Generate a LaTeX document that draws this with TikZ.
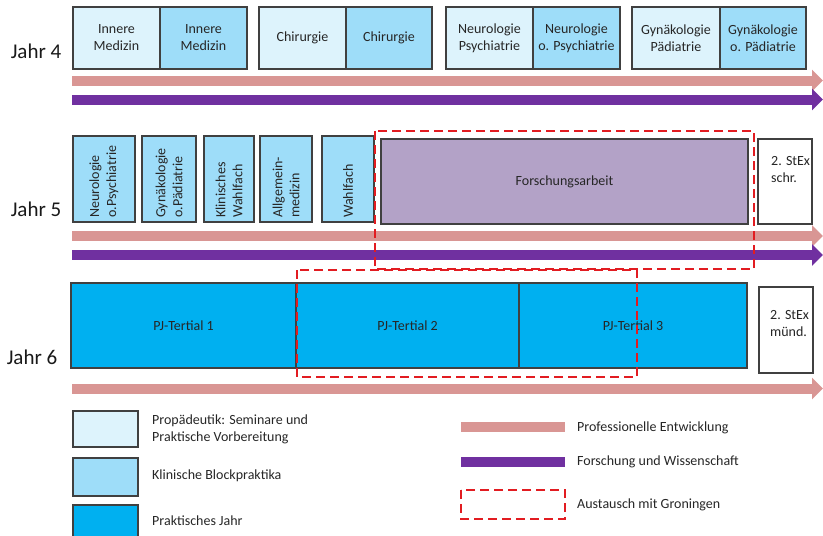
\documentclass[tikz,border=0pt]{standalone}
\usepackage{fontspec}
\setmainfont{Carlito}
\usetikzlibrary{arrows.meta}

\definecolor{lite}{RGB}{221,243,252}
\definecolor{mid}{RGB}{158,221,249}
\definecolor{pjblue}{RGB}{0,176,240}
\definecolor{resblue}{RGB}{179,162,199}
\definecolor{profpink}{RGB}{217,150,148}
\definecolor{forsch}{RGB}{112,48,160}
\definecolor{exred}{RGB}{226,28,33}

\begin{document}
\begin{tikzpicture}[x=1pt, y=-1pt,
	box/.style={draw=black!75, line width=1.3pt, inner sep=1pt, outer sep=0pt, align=center,
		text=black!85, font=\fontsize{14}{17}\selectfont},
	rot/.style={rotate=90, anchor=west, align=left, inner sep=0pt, text=black!85,
		font=\fontsize{14}{17}\selectfont},
	txt/.style={anchor=west, align=left, inner sep=0pt, text=black!85,
		font=\fontsize{14}{17}\selectfont},
	jahr/.style={inner sep=0pt, text=black!90, font=\fontsize{21}{25}\selectfont},
	bar/.style={line width=10pt, -{Triangle[length=11pt,width=21pt]}},
	exch/.style={draw=exred, line width=2.8pt, dash pattern=on 9pt off 5pt}]
	\path[use as bounding box] (0,0) rectangle (823,536);
	\clip (0,0) rectangle (823,536);
	
	\node[jahr] (j4) at (36,51) {Jahr 4};
	\node[jahr] (j5) at (36,209) {Jahr 5};
	\node[jahr] (j6) at (32,357) {Jahr 6};
	
	% Jahr 4
	\foreach \x/\w/\f/\t/\n in {116.5/87/lite/{Innere\\Medizin}/im-a, 203.5/87/mid/{Innere\\Medizin}/im-b,
		302.5/87/lite/Chirurgie/ch-a, 389/86/mid/Chirurgie/ch-b,
		489.5/87/lite/{Neurologie\\Psychiatrie}/ne-a, 576.5/87/mid/{Neurologie\\o. Psychiatrie}/ne-b,
		676/88/lite/{Gynäkologie\\Pädiatrie}/gy-a, 763/86/mid/{Gynäkologie\\o. Pädiatrie}/gy-b} {
		\node[box, fill=\f, minimum width=\w pt, minimum height=62pt] (\n) at (\x,38) {\t};
	}
	\draw[bar, profpink] (72,80.5) -- (823,80.5);
	\draw[bar, forsch] (72,99.5) -- (823,99.5);
	
	% Jahr 5
	\foreach \x/\w/\t/\n in {104/62/{Neurologie\\o.Psychiatrie}/nb-a, 169/54/{Gynäkologie\\o.Pädiatrie}/nb-b,
		229/50/{Klinisches\\Wahlfach}/nb-c, 286/52/{Allgemein-\\medizin}/nb-d, 348/52/Wahlfach/nb-e} {
		\node[box, fill=mid, minimum width=\w pt, minimum height=86pt] (\n) at (\x,179) {};
		\node[rot] (\n-t) at ([yshift=4pt]\n.south) {\t};
	}
	\node[box, fill=resblue, minimum width=367pt, minimum height=85pt] (fa) at (564.5,181.5) {Forschungsarbeit};
	\node[box, fill=white, minimum width=54pt, minimum height=85pt] (sx1) at (785,181.5) {};
	\node[txt, anchor=north west] (sx1-t) at (771,156) {2. StEx\\schr.};
	\draw[bar, profpink] (72,236) -- (823,236);
	\draw[bar, forsch] (72,255) -- (823,255);
	
	% Jahr 6
	\node[box, fill=pjblue, minimum width=225pt, minimum height=85pt] (pj1) at (183.5,325.5) {PJ-Tertial 1};
	\node[box, fill=pjblue, minimum width=223pt, minimum height=85pt] (pj2) at (407.5,325.5) {PJ-Tertial 2};
	\node[box, fill=pjblue, minimum width=228pt, minimum height=85pt] (pj3) at (633,325.5) {PJ-Tertial 3};
	\node[box, fill=white, minimum width=54pt, minimum height=86pt] (sx2) at (786,330) {};
	\node[txt, anchor=north west] (sx2-t) at (770,310) {2. StEx\\münd.};
	\draw[bar, profpink] (72,388.5) -- (823,388.5);
	
	% Austausch
	\draw[exch] (375,131) rectangle (754,269);
	\draw[exch] (297,270) rectangle (637,377);
	
	% Legende
	\node[box, fill=lite, minimum width=65pt, minimum height=36pt] (lg1) at (105.5,429) {};
	\node[box, fill=mid, minimum width=65pt, minimum height=38pt] (lg2) at (105.5,477) {};
	\node[box, fill=pjblue, minimum width=65pt, minimum height=38pt] (lg3) at (105.5,524) {};
	\node[txt] (lg1-t) at (152,429) {Propädeutik: Seminare und\\Praktische Vorbereitung};
	\node[txt] (lg2-t) at (152,476) {Klinische Blockpraktika};
	\node[txt] (lg3-t) at (152,521) {Praktisches Jahr};
	
	\draw[profpink, line width=10pt] (461,427) -- (565,427);
	\draw[forsch, line width=10pt] (461,462) -- (565,462);
	\draw[exch] (461,490) rectangle (565,519);
	\node[txt] (lg4-t) at (577,428) {Professionelle Entwicklung};
	\node[txt] (lg5-t) at (577,462) {Forschung und Wissenschaft};
	\node[txt] (lg6-t) at (577,505) {Austausch mit Groningen};
\end{tikzpicture}
\end{document}
